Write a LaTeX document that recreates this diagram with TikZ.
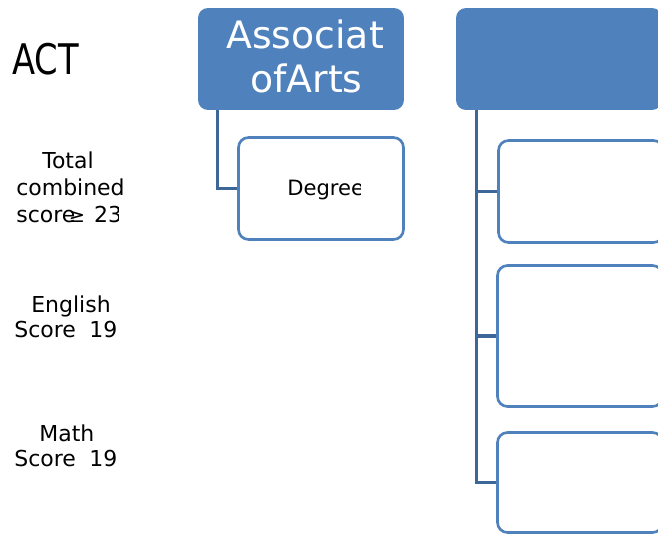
\documentclass[tikz,border=0pt]{standalone}
\usepackage{fontspec}
\setmainfont{DejaVu Sans}
\newfontfamily\actfont[FakeStretch=0.8]{DejaVu Sans}
\usetikzlibrary{positioning, calc}
\definecolor{boxblue}{HTML}{4F81BD}
\definecolor{linkblue}{HTML}{3D6699}
\tikzset{
	headbox/.style={rectangle, rounded corners=0.2cm, fill=boxblue, inner sep=0pt},
	itembox/.style={rectangle, rounded corners=0.2cm, draw=boxblue, line width=1.5pt, fill=white, inner sep=0pt},
	link/.style={draw=linkblue, line width=1.9pt},
	txt/.style={anchor=base west, inner sep=0pt},
	sidetxt/.style={txt, font=\fontsize{12.5pt}{15pt}\selectfont},
	headtxt/.style={txt, text=white, font=\fontsize{21.5pt}{26pt}\selectfont},
}

\begin{document}
\begin{tikzpicture}[x=0.02cm, y=-0.02cm]
				  \useasboundingbox (0,0) rectangle (658,535);
				  \clip (0,0) rectangle (658,535);
				  \node[txt, font=\actfont\fontsize{24pt}{28pt}\selectfont] (act) at (12,74) {ACT};
				  \node[sidetxt] (total) at (42,168) {Total};
				  \node[sidetxt] (combined) at (16,195) {combined};
				  \begin{scope}
				    \clip (0,0) rectangle (118,535);
				    \node[sidetxt] (score) at (16,222) {score\kern-0.3em{\fontsize{11pt}{13pt}\selectfont≥}\kern0.1em\ 23};
				  \end{scope}
				  \node[sidetxt] (english) at (31,312) {English};
				  \node[sidetxt] (escore) at (14,337) {Score\kern0.3em\ 19};
				  \node[sidetxt] (math) at (39,441) {Math};
				  \node[sidetxt] (mscore) at (14,466) {Score\kern0.3em\ 19};
				  \node[headbox, minimum width=4.12cm, minimum height=2.04cm] (assoc) at (301,59) {};
				  \node[itembox, minimum width=3.30cm, minimum height=2.04cm] (degree) at (321,188.5) {};
				  \node[headbox, minimum width=4.12cm, minimum height=2.04cm] (head) at (559,59) {};
				  \node[itembox, minimum width=3.30cm, minimum height=2.04cm] (itema) at (581,191.5) {};
				  \node[itembox, minimum width=3.30cm, minimum height=2.82cm] (itemb) at (580,336) {};
				  \node[itembox, minimum width=3.30cm, minimum height=2.00cm] (itemc) at (580,482.5) {};
				  \draw[link] ($(assoc.south west)+(20,0)$) |- (degree.west);
				  \draw[link] ($(head.south west)+(21,0)$) |- (itemc.west);
				  \draw[link] ($(head.south west)+(21,0)$) |- (itema.west);
				  \draw[link] ($(head.south west)+(21,0)$) |- (itemb.west);
				  \node[headtxt] (assoca) at (226,48) {Associat};
				  \node[headtxt] (assocb) at (250,92) {ofArts};
				  \begin{scope}
				    \clip (0,0) rectangle (360,535);
				    \node[txt, font=\fontsize{12pt}{14pt}\selectfont] (degtxt) at (287,195) {Degree};
				  \end{scope}
				\end{tikzpicture}
\end{document}
